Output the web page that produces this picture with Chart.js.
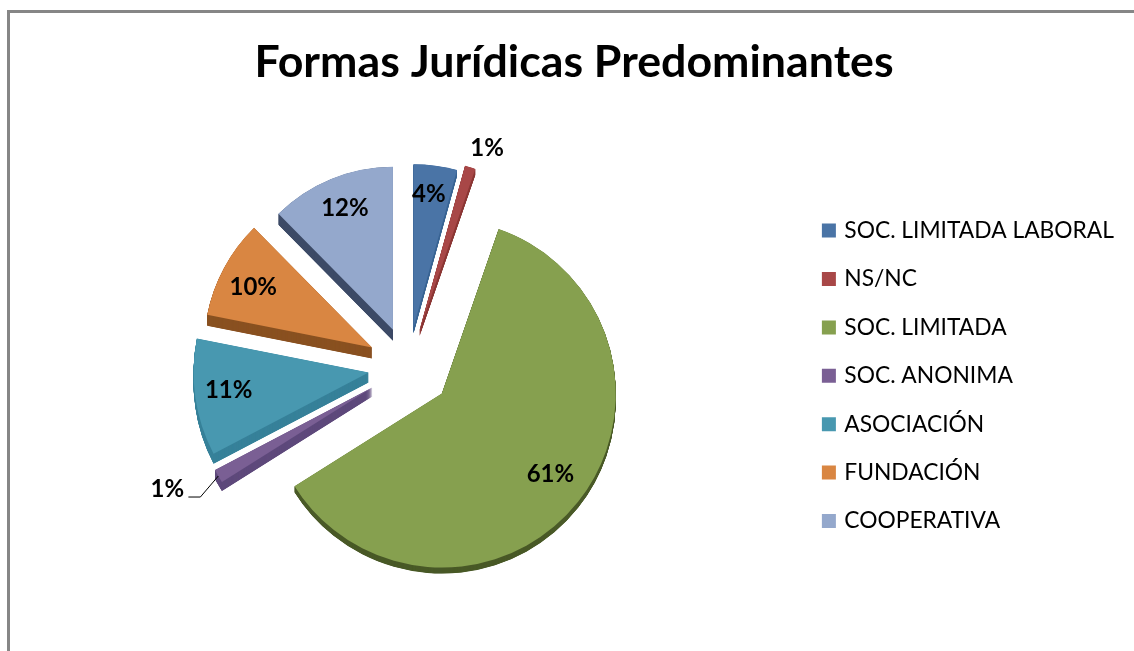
<!DOCTYPE html>
<html lang="es">
<head>
<meta charset="utf-8">
<title>Formas Jurídicas Predominantes</title>
<script src="https://cdn.jsdelivr.net/npm/chart.js@4/dist/chart.umd.min.js"></script>
<style>
  html, body { margin: 0; padding: 0; background: #fff; overflow: hidden; }
  #wrap { position: relative; width: 1134px; height: 651px; }
  #frame { position: absolute; left: 7px; top: 10px; right: 0; bottom: 0; border-left: 3px solid #868686; border-top: 3px solid #868686; pointer-events: none; }
  canvas { display: block; }
</style>
</head>
<body>
<div id="wrap">
  <canvas id="chart1" width="1134" height="651"></canvas>
  <div id="frame"></div>
</div>
<script>
const categories = ['SOC. LIMITADA LABORAL', 'NS/NC', 'SOC. LIMITADA', 'SOC. ANONIMA', 'ASOCIACIÓN', 'FUNDACIÓN', 'COOPERATIVA'];
// the labels show them rounded
const shares = [4.3, 1, 60.8, 1.25, 10.8, 9.5, 12.4];

// styling per slice, same order as categories
const faceColors = ['#4a74a6', '#a84747', '#86a04f', '#7a5f94', '#4898b0', '#d98642', '#94a8cc'];
const wallColors = ['#3a6594', '#8c3836', '#4a5a28', '#5f4a7c', '#38829a', '#8a5222', '#3c4a66'];
const wallDepth = [6, 6, 6, 9, 10, 11, 11];
const sliceExplode = [40, 38, 43, 41, 40, 41, 40];
const sliceRadius = [163, 171, 174, 178, 175, 168, 163];
const labelReach = [174, 232, 178, 270, 181, 174, 171];
const labelTurn = [-0.9, 2.6, -1.5, 3, 0.8, -1.2, 0.6];
const leaderIndex = 3;
const pieShift = { x: -3.5, y: -9 };

const labelFont = 'bold 24px Lato';
let pieCenter = { x: 0, y: 0 };

function midAngle(arc, turn) {
  return (arc.startAngle + arc.endAngle) / 2 + (turn || 0) * Math.PI / 180;
}

// the pie is tilted in the original, lower slices come out a little larger.
// the built in arc offset also narrows small slices, so explode them here
const perspectivePlugin = {
  id: 'perspective',
  afterDatasetUpdate(chart) {
    chart.getDatasetMeta(0).data.forEach((arc, i) => {
      pieCenter = { x: arc.x + pieShift.x, y: arc.y + pieShift.y };
      const m = midAngle(arc);
      arc.outerRadius = sliceRadius[i];
      arc.x = pieCenter.x + Math.cos(m) * sliceExplode[i];
      arc.y = pieCenter.y + Math.sin(m) * sliceExplode[i];
    });
  },
  beforeDatasetsDraw(chart) {
    const ctx = chart.ctx;
    chart.getDatasetMeta(0).data.forEach((arc, i) => {
      const faceOptions = arc.options;
      arc.options = Object.assign({}, faceOptions, { backgroundColor: wallColors[i], borderWidth: 0 });
      for (let k = wallDepth[i]; k > 0; k -= 0.25) {
        ctx.save();
        ctx.translate(0, k);
        arc.draw(ctx);
        ctx.restore();
      }
      arc.options = faceOptions;
    });
  },
  afterDatasetsDraw(chart) {
    const ctx = chart.ctx;
    ctx.save();
    ctx.font = labelFont;
    ctx.fillStyle = '#000';
    ctx.textAlign = 'center';
    ctx.textBaseline = 'middle';
    chart.getDatasetMeta(0).data.forEach((arc, i) => {
      const a = midAngle(arc, labelTurn[i]);
      const lx = pieCenter.x + Math.cos(a) * labelReach[i];
      const ly = pieCenter.y + Math.sin(a) * labelReach[i];
      if (i === leaderIndex) {
        const m = midAngle(arc);
        ctx.beginPath();
        ctx.moveTo(lx + 21, ly + 8);
        ctx.lineTo(lx + 33, ly + 8);
        ctx.lineTo(arc.x + Math.cos(m) * sliceRadius[i], arc.y + Math.sin(m) * sliceRadius[i]);
        ctx.strokeStyle = '#000';
        ctx.lineWidth = 1;
        ctx.stroke();
      }
      ctx.fillText(Math.round(shares[i]) + '%', lx, ly);
    });
    ctx.restore();
  }
};

new Chart(document.getElementById('chart1'), {
  type: 'pie',
  data: {
    labels: categories,
    datasets: [{
      data: shares,
      backgroundColor: faceColors,
      borderWidth: 0
    }]
  },
  options: {
    responsive: false,
    animation: false,
    layout: { padding: { left: 24, right: 10, top: 0, bottom: 19 } },
    plugins: {
      tooltip: { enabled: false },
      title: {
        display: true,
        text: 'Formas Jurídicas Predominantes',
        color: '#000',
        font: { family: 'Lato', size: 44.7, weight: 'bold' },
        padding: { top: 36, bottom: 30 }
      },
      legend: {
        position: 'right',
        fullSize: false,
        labels: {
          color: '#000',
          font: { family: 'Lato', size: 22.8 },
          usePointStyle: true,
          pointStyle: 'rect',
          boxWidth: 8,
          boxHeight: 14,
          padding: 25.6
        }
      }
    }
  },
  plugins: [perspectivePlugin]
});
</script>
</body>
</html>
